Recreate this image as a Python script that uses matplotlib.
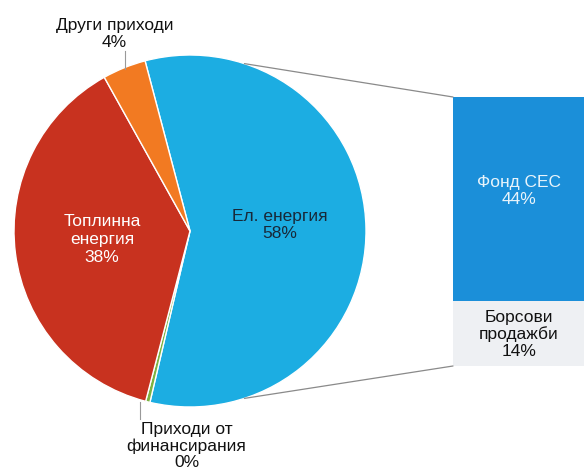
import matplotlib.pyplot as plt
from matplotlib.patches import ConnectionPatch
import numpy as np

plt.rcParams['font.family'] = ['Liberation Sans', 'DejaVu Sans']

# pie data (clockwise from the top-left)
pie_names = ['Ел. енергия', 'Приходи от\nфинансирания', 'Топлинна\nенергия', 'Други приходи']
pie_values = [58, 0.4, 38, 4]
pie_pct = ['58%', '0%', '38%', '4%']
pie_colors = ['#1cade2', '#7cb342', '#c8321f', '#f27a22']

# breakdown of Ел. енергия
bar_names = ['Борсови\nпродажби', 'Фонд СЕС']
bar_values = [14, 44]
bar_pct = ['14%', '44%']
bar_colors = ['#eef0f3', '#1b8fd9']

fs = 12.5
ls = 1.18

W, H = 584, 475
fig = plt.figure(figsize=(W / 100, H / 100), dpi=100)

cx, cy, r = 190, 231, 176
ax1 = fig.add_axes([(cx - r) / W, (H - cy - r) / H, 2 * r / W, 2 * r / H])
wedges, _ = ax1.pie(pie_values, colors=pie_colors, startangle=104.8, counterclock=False,
                    radius=1, wedgeprops=dict(edgecolor='white', linewidth=1))
ax1.set_xlim(-1, 1)
ax1.set_ylim(-1, 1)
ax1.set_aspect('equal')
ax1.axis('off')

# labels inside
ax1.text(0.51, 0.034, pie_names[0] + '\n' + pie_pct[0], ha='center', va='center',
         color='#182838', fontsize=fs, linespacing=ls)
ax1.text(-0.5, -0.05, pie_names[2] + '\n' + pie_pct[2], ha='center', va='center',
         color='white', fontsize=fs, linespacing=ls + 0.06)

# labels outside with leader lines
ax1.text(-0.43, 1.03, pie_names[3] + '\n' + pie_pct[3], ha='center', va='bottom',
         color='#111111', fontsize=fs, linespacing=ls, clip_on=False)
ax1.plot([-0.37, -0.37], [0.92, 1.02], color='#999999', lw=0.8, clip_on=False)
ax1.text(-0.02, -1.085, pie_names[1] + '\n' + pie_pct[1], ha='center', va='top',
         color='#111111', fontsize=fs, linespacing=ls - 0.08, clip_on=False)
ax1.plot([-0.285, -0.285], [-0.97, -1.07], color='#999999', lw=0.8, clip_on=False)

# bar
bx0, bx1, by0, by1 = 453, 585, 97, 366
ax2 = fig.add_axes([bx0 / W, (H - by1) / H, (bx1 - bx0) / W, (by1 - by0) / H])
bottom = 0
for v, c in zip(bar_values, bar_colors):
    ax2.bar(0.5, v, width=1, bottom=bottom, color=c, edgecolor='none')
    bottom += v
ax2.set_xlim(0, 1)
ax2.set_ylim(0, sum(bar_values))
ax2.axis('off')
ax2.text(0.5, bar_values[0] / 2 - 0.2, bar_names[0] + '\n' + bar_pct[0], ha='center', va='center',
         color='#111111', fontsize=fs, linespacing=ls - 0.05)
ax2.text(0.5, bar_values[0] + bar_values[1] * 0.54, bar_names[1] + '\n' + bar_pct[1],
         ha='center', va='center', color='#e8f4fb', fontsize=fs, linespacing=ls)

# connector lines
for ang, yb in [(72, sum(bar_values)), (-72, 0)]:
    a = np.radians(ang)
    con = ConnectionPatch(xyA=(np.cos(a), np.sin(a)), coordsA=ax1.transData,
                          xyB=(0, yb), coordsB=ax2.transData,
                          color='#8a8a8a', lw=0.9)
    fig.add_artist(con)

fig.savefig('out.png', dpi=100)
